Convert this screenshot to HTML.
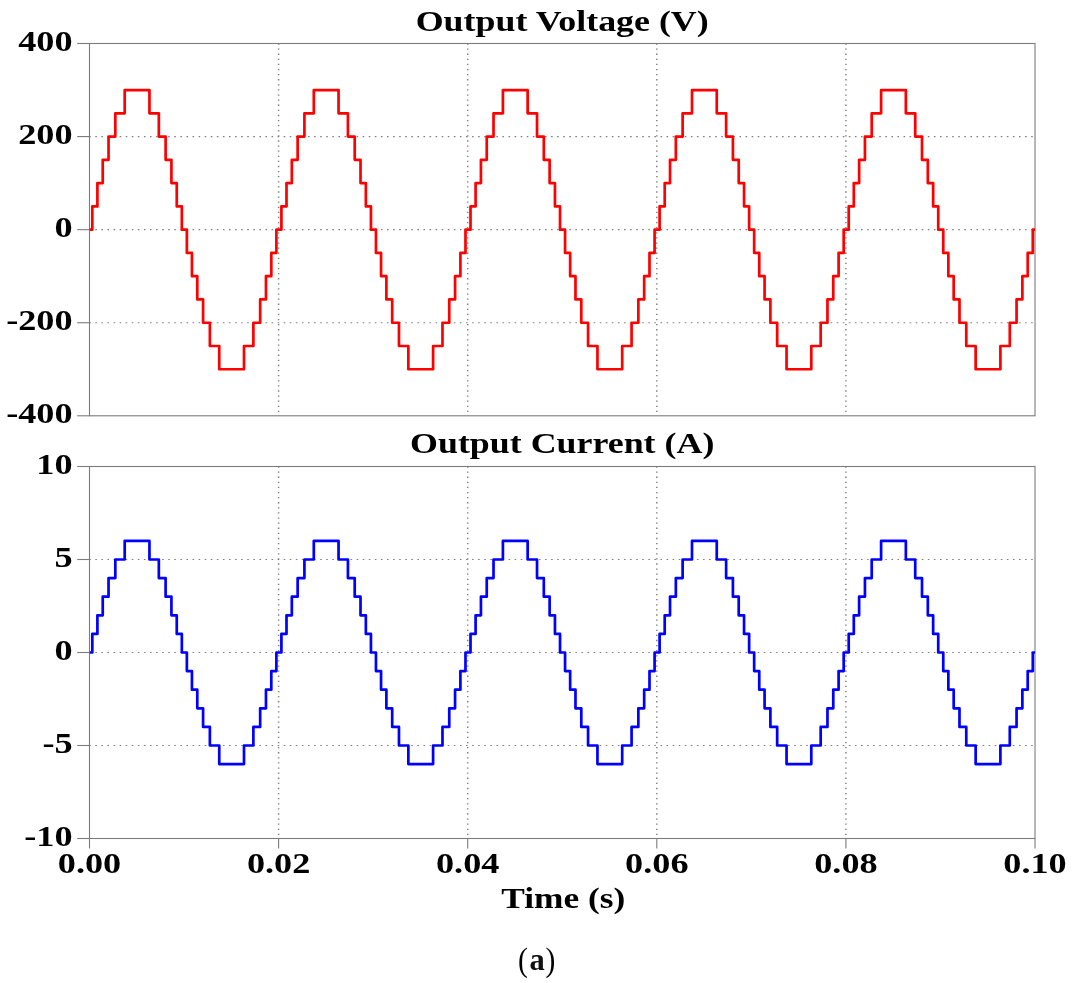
<!DOCTYPE html>
<html><head><meta charset="utf-8"><style>
html,body{margin:0;padding:0;background:#fff;width:1080px;height:983px;overflow:hidden;font-family:"Liberation Serif",serif;}
svg{display:block;will-change:transform}
</style></head><body>
<svg width="1080" height="983" viewBox="0 0 1080 983">
<rect width="100%" height="100%" fill="#fff"/>
<line x1="89.22" y1="136.57" x2="1034.00" y2="136.57" stroke="#808080" stroke-width="1.2" stroke-dasharray="1.6 4.477"/>
<line x1="89.22" y1="229.65" x2="1034.00" y2="229.65" stroke="#808080" stroke-width="1.2" stroke-dasharray="1.6 4.477"/>
<line x1="89.22" y1="322.73" x2="1034.00" y2="322.73" stroke="#808080" stroke-width="1.2" stroke-dasharray="1.6 4.477"/>
<line x1="278.60" y1="43.40" x2="278.60" y2="414.80" stroke="#808080" stroke-width="1.5" stroke-dasharray="1.3 3.802"/>
<line x1="467.70" y1="43.40" x2="467.70" y2="414.80" stroke="#808080" stroke-width="1.5" stroke-dasharray="1.3 3.802"/>
<line x1="656.80" y1="43.40" x2="656.80" y2="414.80" stroke="#808080" stroke-width="1.5" stroke-dasharray="1.3 3.802"/>
<line x1="845.90" y1="43.40" x2="845.90" y2="414.80" stroke="#808080" stroke-width="1.5" stroke-dasharray="1.3 3.802"/>
<rect x="89.50" y="43.50" width="945.50" height="372.30" fill="none" stroke="#7c7c7c" stroke-width="1.1"/>
<line x1="77.2" y1="43.50" x2="89.50" y2="43.50" stroke="#7c7c7c" stroke-width="1.1"/>
<line x1="77.2" y1="136.57" x2="89.50" y2="136.57" stroke="#7c7c7c" stroke-width="1.1"/>
<line x1="77.2" y1="229.65" x2="89.50" y2="229.65" stroke="#7c7c7c" stroke-width="1.1"/>
<line x1="77.2" y1="322.73" x2="89.50" y2="322.73" stroke="#7c7c7c" stroke-width="1.1"/>
<line x1="77.2" y1="415.80" x2="89.50" y2="415.80" stroke="#7c7c7c" stroke-width="1.1"/>
<line x1="89.22" y1="559.50" x2="1034.00" y2="559.50" stroke="#808080" stroke-width="1.2" stroke-dasharray="1.6 4.477"/>
<line x1="89.22" y1="652.50" x2="1034.00" y2="652.50" stroke="#808080" stroke-width="1.2" stroke-dasharray="1.6 4.477"/>
<line x1="89.22" y1="745.50" x2="1034.00" y2="745.50" stroke="#808080" stroke-width="1.2" stroke-dasharray="1.6 4.477"/>
<line x1="278.60" y1="466.40" x2="278.60" y2="837.50" stroke="#808080" stroke-width="1.5" stroke-dasharray="1.3 3.802"/>
<line x1="467.70" y1="466.40" x2="467.70" y2="837.50" stroke="#808080" stroke-width="1.5" stroke-dasharray="1.3 3.802"/>
<line x1="656.80" y1="466.40" x2="656.80" y2="837.50" stroke="#808080" stroke-width="1.5" stroke-dasharray="1.3 3.802"/>
<line x1="845.90" y1="466.40" x2="845.90" y2="837.50" stroke="#808080" stroke-width="1.5" stroke-dasharray="1.3 3.802"/>
<rect x="89.50" y="466.50" width="945.50" height="372.00" fill="none" stroke="#7c7c7c" stroke-width="1.1"/>
<line x1="77.2" y1="466.50" x2="89.50" y2="466.50" stroke="#7c7c7c" stroke-width="1.1"/>
<line x1="77.2" y1="559.50" x2="89.50" y2="559.50" stroke="#7c7c7c" stroke-width="1.1"/>
<line x1="77.2" y1="652.50" x2="89.50" y2="652.50" stroke="#7c7c7c" stroke-width="1.1"/>
<line x1="77.2" y1="745.50" x2="89.50" y2="745.50" stroke="#7c7c7c" stroke-width="1.1"/>
<line x1="77.2" y1="838.50" x2="89.50" y2="838.50" stroke="#7c7c7c" stroke-width="1.1"/>
<line x1="89.50" y1="838.50" x2="89.50" y2="848.5" stroke="#7c7c7c" stroke-width="1.1"/>
<line x1="278.60" y1="838.50" x2="278.60" y2="848.5" stroke="#7c7c7c" stroke-width="1.1"/>
<line x1="467.70" y1="838.50" x2="467.70" y2="848.5" stroke="#7c7c7c" stroke-width="1.1"/>
<line x1="656.80" y1="838.50" x2="656.80" y2="848.5" stroke="#7c7c7c" stroke-width="1.1"/>
<line x1="845.90" y1="838.50" x2="845.90" y2="848.5" stroke="#7c7c7c" stroke-width="1.1"/>
<line x1="1035.00" y1="838.50" x2="1035.00" y2="848.5" stroke="#7c7c7c" stroke-width="1.1"/>
<path d="M89.80 229.65H92.31V206.38H97.40V183.11H102.73V159.84H108.54V136.57H115.32V113.31H124.70V90.04H149.45V113.31H158.83V136.57H165.61V159.84H171.42V183.11H176.75V206.38H181.84V229.65H186.86V252.92H191.95V276.19H197.28V299.46H203.09V322.73H209.87V345.99H219.25V369.26H244.00V345.99H253.38V322.73H260.16V299.46H265.97V276.19H271.30V252.92H276.39V229.65H281.41V206.38H286.50V183.11H291.83V159.84H297.64V136.57H304.42V113.31H313.80V90.04H338.55V113.31H347.93V136.57H354.71V159.84H360.52V183.11H365.85V206.38H370.94V229.65H375.96V252.92H381.05V276.19H386.38V299.46H392.19V322.73H398.97V345.99H408.35V369.26H433.10V345.99H442.48V322.73H449.26V299.46H455.07V276.19H460.40V252.92H465.49V229.65H470.51V206.38H475.60V183.11H480.93V159.84H486.74V136.57H493.52V113.31H502.90V90.04H527.65V113.31H537.03V136.57H543.81V159.84H549.62V183.11H554.95V206.38H560.04V229.65H565.06V252.92H570.15V276.19H575.48V299.46H581.29V322.73H588.07V345.99H597.45V369.26H622.20V345.99H631.58V322.73H638.36V299.46H644.17V276.19H649.50V252.92H654.59V229.65H659.61V206.38H664.70V183.11H670.03V159.84H675.84V136.57H682.62V113.31H692.00V90.04H716.75V113.31H726.13V136.57H732.91V159.84H738.72V183.11H744.05V206.38H749.14V229.65H754.16V252.92H759.25V276.19H764.58V299.46H770.39V322.73H777.17V345.99H786.55V369.26H811.30V345.99H820.68V322.73H827.46V299.46H833.27V276.19H838.60V252.92H843.69V229.65H848.71V206.38H853.80V183.11H859.13V159.84H864.94V136.57H871.72V113.31H881.10V90.04H905.85V113.31H915.23V136.57H922.01V159.84H927.82V183.11H933.15V206.38H938.24V229.65H943.26V252.92H948.35V276.19H953.68V299.46H959.49V322.73H966.27V345.99H975.65V369.26H1000.40V345.99H1009.78V322.73H1016.56V299.46H1022.37V276.19H1027.70V252.92H1032.79V229.65H1035.00" fill="none" stroke="#ff0000" stroke-width="2.7" stroke-linejoin="round"/>
<path d="M89.80 652.50H92.31V633.90H97.40V615.30H102.73V596.70H108.54V578.10H115.32V559.50H124.70V540.90H149.45V559.50H158.83V578.10H165.61V596.70H171.42V615.30H176.75V633.90H181.84V652.50H186.86V671.10H191.95V689.70H197.28V708.30H203.09V726.90H209.87V745.50H219.25V764.10H244.00V745.50H253.38V726.90H260.16V708.30H265.97V689.70H271.30V671.10H276.39V652.50H281.41V633.90H286.50V615.30H291.83V596.70H297.64V578.10H304.42V559.50H313.80V540.90H338.55V559.50H347.93V578.10H354.71V596.70H360.52V615.30H365.85V633.90H370.94V652.50H375.96V671.10H381.05V689.70H386.38V708.30H392.19V726.90H398.97V745.50H408.35V764.10H433.10V745.50H442.48V726.90H449.26V708.30H455.07V689.70H460.40V671.10H465.49V652.50H470.51V633.90H475.60V615.30H480.93V596.70H486.74V578.10H493.52V559.50H502.90V540.90H527.65V559.50H537.03V578.10H543.81V596.70H549.62V615.30H554.95V633.90H560.04V652.50H565.06V671.10H570.15V689.70H575.48V708.30H581.29V726.90H588.07V745.50H597.45V764.10H622.20V745.50H631.58V726.90H638.36V708.30H644.17V689.70H649.50V671.10H654.59V652.50H659.61V633.90H664.70V615.30H670.03V596.70H675.84V578.10H682.62V559.50H692.00V540.90H716.75V559.50H726.13V578.10H732.91V596.70H738.72V615.30H744.05V633.90H749.14V652.50H754.16V671.10H759.25V689.70H764.58V708.30H770.39V726.90H777.17V745.50H786.55V764.10H811.30V745.50H820.68V726.90H827.46V708.30H833.27V689.70H838.60V671.10H843.69V652.50H848.71V633.90H853.80V615.30H859.13V596.70H864.94V578.10H871.72V559.50H881.10V540.90H905.85V559.50H915.23V578.10H922.01V596.70H927.82V615.30H933.15V633.90H938.24V652.50H943.26V671.10H948.35V689.70H953.68V708.30H959.49V726.90H966.27V745.50H975.65V764.10H1000.40V745.50H1009.78V726.90H1016.56V708.30H1022.37V689.70H1027.70V671.10H1032.79V652.50H1035.00" fill="none" stroke="#0000ff" stroke-width="2.7" stroke-linejoin="round"/>
<text transform="translate(72.60 51.10) scale(1.2000 1)" font-family="Liberation Serif" font-weight="bold" fill="#000" font-size="30.20" text-anchor="end" >400</text>
<text transform="translate(72.60 144.17) scale(1.2000 1)" font-family="Liberation Serif" font-weight="bold" fill="#000" font-size="30.20" text-anchor="end" >200</text>
<text transform="translate(72.60 237.25) scale(1.2000 1)" font-family="Liberation Serif" font-weight="bold" fill="#000" font-size="30.20" text-anchor="end" >0</text>
<text transform="translate(72.60 330.33) scale(1.2000 1)" font-family="Liberation Serif" font-weight="bold" fill="#000" font-size="30.20" text-anchor="end" >-200</text>
<text transform="translate(72.60 423.40) scale(1.2000 1)" font-family="Liberation Serif" font-weight="bold" fill="#000" font-size="30.20" text-anchor="end" >-400</text>
<text transform="translate(72.60 474.10) scale(1.2000 1)" font-family="Liberation Serif" font-weight="bold" fill="#000" font-size="30.20" text-anchor="end" >10</text>
<text transform="translate(72.60 567.10) scale(1.2000 1)" font-family="Liberation Serif" font-weight="bold" fill="#000" font-size="30.20" text-anchor="end" >5</text>
<text transform="translate(72.60 660.10) scale(1.2000 1)" font-family="Liberation Serif" font-weight="bold" fill="#000" font-size="30.20" text-anchor="end" >0</text>
<text transform="translate(72.60 753.10) scale(1.2000 1)" font-family="Liberation Serif" font-weight="bold" fill="#000" font-size="30.20" text-anchor="end" >-5</text>
<text transform="translate(72.60 846.10) scale(1.2000 1)" font-family="Liberation Serif" font-weight="bold" fill="#000" font-size="30.20" text-anchor="end" >-10</text>
<text transform="translate(89.50 873.00) scale(1.2000 1)" font-family="Liberation Serif" font-weight="bold" fill="#000" font-size="30.20" text-anchor="middle" >0.00</text>
<text transform="translate(278.60 873.00) scale(1.2000 1)" font-family="Liberation Serif" font-weight="bold" fill="#000" font-size="30.20" text-anchor="middle" >0.02</text>
<text transform="translate(467.70 873.00) scale(1.2000 1)" font-family="Liberation Serif" font-weight="bold" fill="#000" font-size="30.20" text-anchor="middle" >0.04</text>
<text transform="translate(656.80 873.00) scale(1.2000 1)" font-family="Liberation Serif" font-weight="bold" fill="#000" font-size="30.20" text-anchor="middle" >0.06</text>
<text transform="translate(845.90 873.00) scale(1.2000 1)" font-family="Liberation Serif" font-weight="bold" fill="#000" font-size="30.20" text-anchor="middle" >0.08</text>
<text transform="translate(1035.00 873.00) scale(1.2000 1)" font-family="Liberation Serif" font-weight="bold" fill="#000" font-size="30.20" text-anchor="middle" >0.10</text>
<text transform="translate(562.20 30.50) scale(1.1880 1)" font-family="Liberation Serif" font-weight="bold" fill="#000" font-size="30.20" text-anchor="middle" >Output Voltage (V)</text>
<text transform="translate(562.20 452.60) scale(1.1880 1)" font-family="Liberation Serif" font-weight="bold" fill="#000" font-size="30.20" text-anchor="middle" >Output Current (A)</text>
<text transform="translate(563.30 908.10) scale(1.1710 1)" font-family="Liberation Serif" font-weight="bold" fill="#000" font-size="30.20" text-anchor="middle" >Time (s)</text>
<text transform="translate(517.9 970.6) scale(0.87 1)" font-family="Liberation Serif" font-size="34" fill="#000">(</text>
<text x="537" y="970.2" font-family="Liberation Serif" font-weight="bold" font-size="30.5" fill="#111" text-anchor="middle">a</text>
<text transform="translate(545.45 970.6) scale(0.87 1)" font-family="Liberation Serif" font-size="34" fill="#000">)</text>
</svg>
</body></html>
